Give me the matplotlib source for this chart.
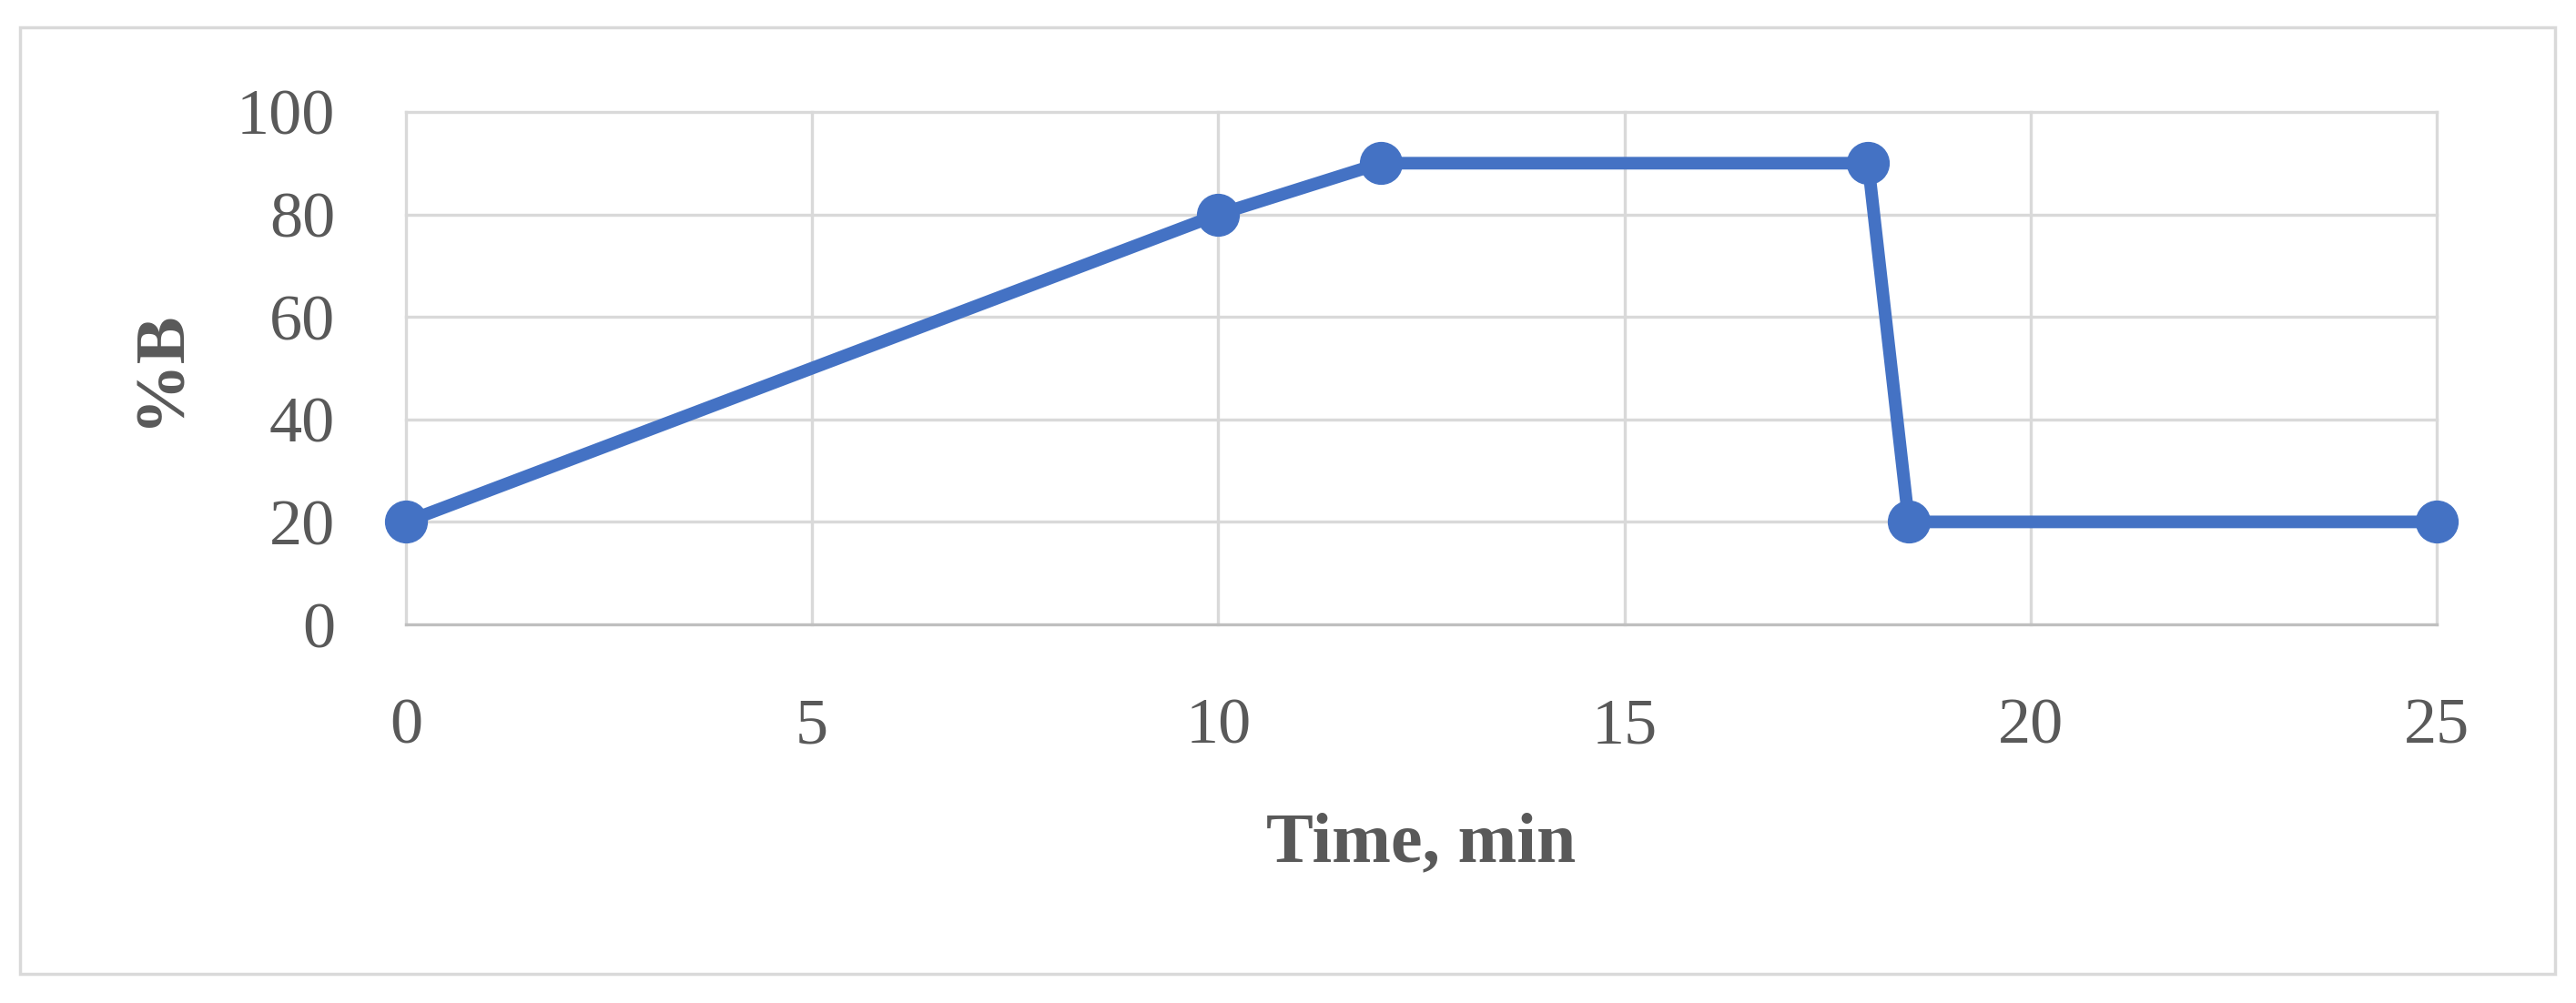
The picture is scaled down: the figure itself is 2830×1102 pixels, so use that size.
import matplotlib
matplotlib.use("Agg")
import matplotlib.pyplot as plt
from matplotlib.patches import Rectangle

time_min = [0, 10, 12, 18, 18.5, 25]
percent_b = [20, 80, 90, 90, 20, 20]
x_ticks = [0, 5, 10, 15, 20, 25]
y_ticks = [0, 20, 40, 60, 80, 100]

W, H = 2830, 1102
fig = plt.figure(figsize=(W / 100, H / 100), dpi=100)
fig.patch.set_facecolor("white")

text_color = "#595959"
grid_color = "#D9D9D9"
line_color = "#4472C4"
font = "Liberation Serif"

# outer chart border
fig.patches.append(Rectangle((22 / W, 1 - 1070 / H), (2807 - 22) / W, (1070 - 30) / H,
                             transform=fig.transFigure, fill=False,
                             edgecolor=grid_color, linewidth=2.5))

ax = fig.add_axes([446 / W, 1 - 686 / H, (2677 - 446) / W, (686 - 123) / H])
ax.set_xlim(0, 25)
ax.set_ylim(0, 100)
ax.set_xticks(x_ticks)
ax.set_yticks(y_ticks)
for s in ax.spines.values():
    s.set_visible(False)
for xv in x_ticks:
    ax.axvline(xv, color=grid_color, linewidth=2.4, zorder=1, clip_on=False)
for yv in y_ticks:
    ax.axhline(yv, color=grid_color if yv != 0 else "#BFBFBF", linewidth=2.4, zorder=1, clip_on=False)

ax.plot(time_min, percent_b, color=line_color, linewidth=10, marker="o",
        markersize=33, markerfacecolor=line_color, markeredgecolor=line_color,
        zorder=3, clip_on=False)

ax.tick_params(axis="both", length=0, labelsize=52, labelcolor=text_color)
ax.tick_params(axis="y", pad=56)
ax.tick_params(axis="x", pad=58)
for lab in ax.get_xticklabels() + ax.get_yticklabels():
    lab.set_fontfamily(font)

ax.set_xlabel("Time, min", fontsize=56, fontweight="bold", color=text_color,
              fontfamily=font, labelpad=44)
ax.set_ylabel("%B", fontsize=56, fontweight="bold", color=text_color,
              fontfamily=font, labelpad=34)

fig.savefig("out.png", dpi=100, facecolor="white")
